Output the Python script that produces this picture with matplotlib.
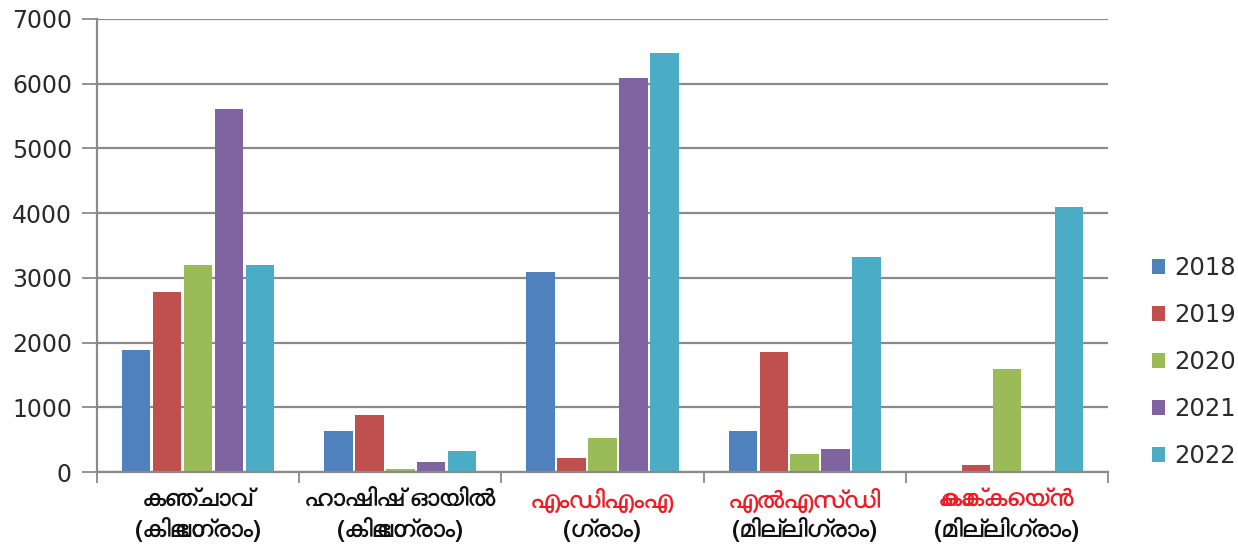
import numpy as np
import matplotlib
matplotlib.use("Agg")
import matplotlib.pyplot as plt
from matplotlib import font_manager as fm
from matplotlib.transforms import blended_transform_factory

# ---------------- data ----------------
categories = ["കഞ്ചാവ്", "ഹാഷിഷ് ഓയിൽ", "എംഡിഎംഎ", "എൽഎസ്ഡി", "കൊക്കെയ്ൻ"]
units = ["(കിലോഗ്രാം)", "(കിലോഗ്രാം)", "(ഗ്രാം)", "(മില്ലിഗ്രാം)", "(മില്ലിഗ്രാം)"]
name_red = [False, False, True, True, True]
years = ["2018", "2019", "2020", "2021", "2022"]
v2018 = [1880, 635, 3090, 635, 0]
v2019 = [2780, 880, 215, 1855, 110]
v2020 = [3200, 45, 525, 280, 1590]
v2021 = [5610, 155, 6090, 355, 0]
v2022 = [3200, 325, 6475, 3320, 4095]
yticks = [0, 1000, 2000, 3000, 4000, 5000, 6000, 7000]

series = [v2018, v2019, v2020, v2021, v2022]
colors = ["#4F81BD", "#C0504D", "#9BBB59", "#8064A2", "#4BACC6"]

# ---------------- fonts ----------------
def find_font_for(ch):
    try:
        from fontTools.ttLib import TTFont
    except Exception:
        return None
    cands = []
    for f in fm.findSystemFonts():
        try:
            tt = TTFont(f, fontNumber=0, lazy=True)
            cmap = tt.getBestCmap()
            if cmap and ord(ch) in cmap:
                cands.append(f)
        except Exception:
            pass
    if not cands:
        return None
    cands.sort(key=lambda p: (0 if "Bold" in p else 1, p))
    return cands

mal_family = None
cands = find_font_for("\u0d15")
if cands:
    for p in cands:
        try:
            fm.fontManager.addfont(p)
        except Exception:
            pass
    mal_family = fm.FontProperties(fname=cands[0]).get_name()

label_family = ([mal_family] if mal_family else []) + ["DejaVu Sans"]

plt.rcParams["font.family"] = ["DejaVu Sans"]

W, H = 1238, 547
fig = plt.figure(figsize=(W / 100, H / 100), dpi=100)
ax = fig.add_axes([97 / W, 1 - 472 / H, (1108 - 97) / W, (472 - 19) / H])

n = len(categories)
x = np.arange(n)
step = 0.153
bw = 0.141
for i, (vals, c, yr) in enumerate(zip(series, colors, years)):
    ax.bar(x + (i - 2) * step, vals, width=bw, color=c, linewidth=0,
           label=yr, zorder=3)

ax.set_xlim(-0.5, n - 0.5)
ax.set_ylim(0, 7000)
ax.set_yticks(yticks)
ax.set_yticklabels([str(t) for t in yticks], fontsize=17, color="#2a2a2a")
ax.yaxis.grid(True, color="#8a8a8a", linewidth=1.6, zorder=0)
ax.tick_params(axis="y", length=11, width=1.3, color="#8a8a8a", pad=7)

ax.set_xticks(x)
ax.set_xticklabels([])
ax.tick_params(axis="x", which="major", length=0)
ax.set_xticks(np.arange(-0.5, n, 1.0), minor=True)
ax.tick_params(axis="x", which="minor", length=8, width=1.3, color="#8a8a8a")

for s in ["top", "right"]:
    ax.spines[s].set_visible(False)
for s in ["left", "bottom"]:
    ax.spines[s].set_color("#8a8a8a")
    ax.spines[s].set_linewidth(1.6)
    ax.spines[s].set_zorder(4)

tr = blended_transform_factory(ax.transData, fig.transFigure)
for i in range(n):
    ax.text(x[i], 1 - 500 / H, categories[i], transform=tr, ha="center", va="center",
            fontsize=17.5, fontweight="bold", family=label_family,
            color="#ee1c25" if name_red[i] else "#111111")
    ax.text(x[i], 1 - 530 / H, units[i], transform=tr, ha="center", va="center",
            fontsize=17.5, fontweight="bold", family=label_family, color="#111111")

leg = fig.legend(loc="center left", bbox_to_anchor=(1152 / W, 1 - 362 / H),
                 frameon=False, fontsize=17.5, handlelength=0.55, handleheight=0.55,
                 handletextpad=0.35, labelspacing=0.95, borderaxespad=0, borderpad=0)
for t in leg.get_texts():
    t.set_color("#2a2a2a")

fig.savefig("out.png", dpi=100)
